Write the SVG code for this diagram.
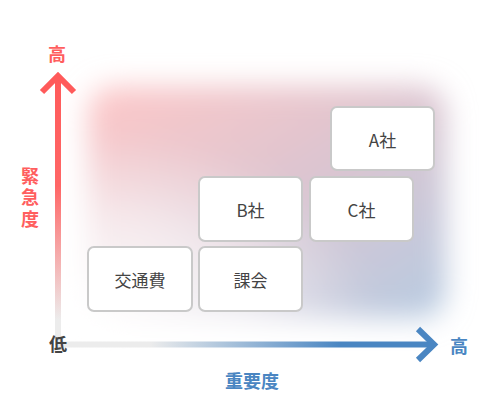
<svg xmlns="http://www.w3.org/2000/svg" width="490" height="417" viewBox="0 0 490 417">
<defs>
<linearGradient id="bg" x1="0" y1="0" x2="1" y2="1">
<stop offset="0" stop-color="#ffc8c8"/>
<stop offset="0.5" stop-color="#dcc5d0"/>
<stop offset="1" stop-color="#b6cbe2"/>
</linearGradient>
<radialGradient id="wh" cx="0" cy="1" r="0.8">
<stop offset="0" stop-color="#ffffff" stop-opacity="1"/>
<stop offset="0.55" stop-color="#ffffff" stop-opacity="0.6"/>
<stop offset="1" stop-color="#ffffff" stop-opacity="0"/>
</radialGradient>
<filter id="blur" x="-20%" y="-20%" width="140%" height="140%">
<feGaussianBlur stdDeviation="14"/>
</filter>
<linearGradient id="vg" gradientUnits="userSpaceOnUse" x1="0" y1="76" x2="0" y2="320">
<stop offset="0" stop-color="#ff5a5a"/>
<stop offset="0.45" stop-color="#ff6666"/>
<stop offset="1" stop-color="#ececec"/>
</linearGradient>
<linearGradient id="hg" gradientUnits="userSpaceOnUse" x1="150" y1="0" x2="340" y2="0">
<stop offset="0" stop-color="#ececec"/>
<stop offset="1" stop-color="#4a86c2"/>
</linearGradient>
<style>
.box{fill:#ffffff;stroke:#c9c9c9;stroke-width:2}
.bt{font-family:"Noto Sans CJK JP","Noto Sans",sans-serif;font-size:17px;fill:#444444;text-anchor:middle;dominant-baseline:central}
.lb{font-family:"Noto Sans CJK JP",sans-serif;font-size:18px;font-weight:bold;text-anchor:middle;dominant-baseline:central}
.vert{writing-mode:vertical-rl;letter-spacing:3.5px}
.red{fill:#ff5e5e}
.blue{fill:#4a86c2}
</style>
</defs>
<g id="background" filter="url(#blur)">
<rect x="88" y="86" width="358" height="232" rx="26" fill="url(#bg)"/>
<rect x="88" y="86" width="358" height="232" rx="26" fill="url(#wh)"/>
</g>
<g id="connectors" fill="none" stroke-linecap="butt">
<line x1="58" y1="78" x2="58" y2="345" stroke="url(#vg)" stroke-width="6"/>
<polyline points="42,92 58,76 74,92" stroke="#ff5a5a" stroke-width="6"/>
<line x1="58" y1="344.5" x2="434" y2="344.5" stroke="url(#hg)" stroke-width="6"/>
<polyline points="418,329 434,344.5 418,360" stroke="#4a86c2" stroke-width="6"/>
</g>
<g id="labels">
<text class="lb red" x="57" y="53">高</text>
<text class="lb vert red" x="30" y="199">緊急度</text>
<text class="lb" x="58" y="343" fill="#444444">低</text>
<text class="lb blue" x="459" y="345">高</text>
<text class="lb blue" x="252" y="380">重要度</text>
</g>
<g id="node-a">
<rect class="box" x="331" y="107" width="103" height="63" rx="6"/>
<text class="bt" x="382.5" y="139">A社</text>
</g>
<g id="node-b">
<rect class="box" x="199" y="177" width="103" height="64" rx="6"/>
<text class="bt" x="250.5" y="209.5">B社</text>
</g>
<g id="node-c">
<rect class="box" x="310" y="177" width="103" height="64" rx="6"/>
<text class="bt" x="361.5" y="209.5">C社</text>
</g>
<g id="node-kotsuhi">
<rect class="box" x="88" y="247" width="104" height="64" rx="6"/>
<text class="bt" x="140" y="279">交通費</text>
</g>
<g id="node-kakai">
<rect class="box" x="199" y="247" width="103" height="64" rx="6"/>
<text class="bt" x="250.5" y="279">課会</text>
</g>
</svg>
